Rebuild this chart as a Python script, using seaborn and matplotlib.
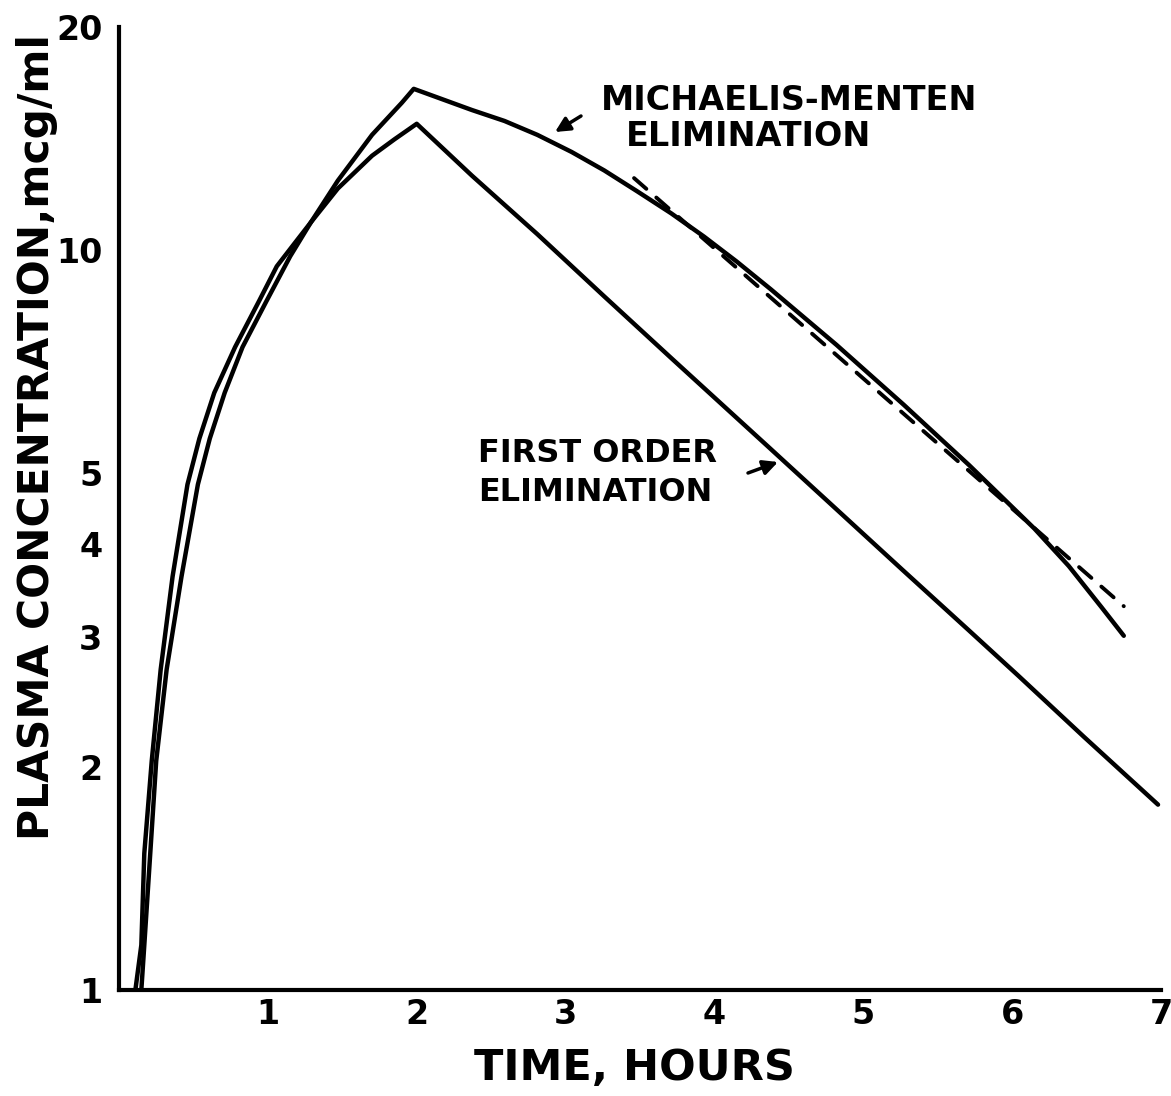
import numpy as np
import pandas as pd
import matplotlib
matplotlib.use("Agg")
import matplotlib.pyplot as plt
import seaborn as sns

# ---- data ----
time_first_order = [0.11, 0.15, 0.17, 0.22, 0.28, 0.36, 0.46, 0.54, 0.64, 0.78, 0.94,
                    1.06, 1.29, 1.47, 1.70, 1.85, 2.00, 2.37, 2.81, 3.26, 3.71, 4.37,
                    4.81, 5.26, 5.71, 6.04, 6.48, 6.98]
conc_first_order = [1.0, 1.15, 1.53, 2.04, 2.71, 3.62, 4.82, 5.56, 6.41, 7.39, 8.52,
                    9.5, 10.9, 12.1, 13.4, 14.1, 14.8, 12.6, 10.5, 8.65, 7.14, 5.40,
                    4.48, 3.70, 3.06, 2.66, 2.20, 1.78]

time_mm = [0.15, 0.17, 0.21, 0.25, 0.32, 0.42, 0.53, 0.61, 0.71, 0.83, 0.99, 1.15,
           1.29, 1.47, 1.70, 1.90, 1.98, 2.37, 2.59, 2.81, 3.04, 3.26, 3.48, 3.71,
           3.93, 4.15, 4.38, 4.82, 5.27, 5.71, 6.15, 6.38, 6.60, 6.75]
conc_mm = [1.0, 1.15, 1.53, 2.04, 2.71, 3.62, 4.82, 5.56, 6.41, 7.39, 8.52, 9.8,
           10.9, 12.4, 14.3, 15.8, 16.5, 15.45, 14.93, 14.30, 13.56, 12.80, 12.0, 11.2,
           10.42, 9.64, 8.84, 7.44, 6.18, 5.12, 4.20, 3.74, 3.29, 3.01]

time_dashed = [3.46, 6.75]
conc_dashed = [12.5, 3.3]

x_ticks = [1, 2, 3, 4, 5, 6, 7]
y_ticks = [1, 2, 3, 4, 5, 10, 20]
y_tick_labels = ["1", "2", "3", "4", "5", "10", "20"]

x_label = "TIME, HOURS"
y_label = "PLASMA CONCENTRATION,mcg/ml"
mm_label = ["MICHAELIS-MENTEN", "ELIMINATION"]
fo_label = ["FIRST ORDER", "ELIMINATION"]

# ---- style ----
sns.set_theme(style="white")
plt.rcParams["font.family"] = ["DejaVu Sans"]
plt.rcParams["font.weight"] = "bold"
plt.rcParams["text.color"] = "black"
plt.rcParams["axes.labelcolor"] = "black"

W, H = 1171, 1096
fig = plt.figure(figsize=(W / 100, H / 100), dpi=100)
ax_left, ax_right, ax_top, ax_bottom = 119, 1161, 27, 990
ax = fig.add_axes([ax_left / W, 1 - ax_bottom / H,
                   (ax_right - ax_left) / W, (ax_bottom - ax_top) / H])

df = pd.concat([
    pd.DataFrame({"t": time_first_order, "c": conc_first_order, "s": "first"}),
    pd.DataFrame({"t": time_mm, "c": conc_mm, "s": "mm"}),
])
lw = 3.2
sns.lineplot(data=df, x="t", y="c", units="s", estimator=None, color="black",
             lw=lw, ax=ax, sort=False, solid_capstyle="round", solid_joinstyle="round")
sns.lineplot(x=time_dashed, y=conc_dashed, color="black", lw=2.8, ax=ax,
             linestyle=(0, (4.2, 3.4)), dash_capstyle="round")

ax.set_yscale("log")
ax.set_xlim(0, 7)
ax.set_ylim(1, 20)
ax.set_xticks(x_ticks)
ax.set_xticklabels([str(v) for v in x_ticks])
ax.set_yticks(y_ticks)
ax.set_yticklabels(y_tick_labels)
ax.yaxis.set_minor_locator(matplotlib.ticker.NullLocator())
ax.xaxis.set_minor_locator(matplotlib.ticker.NullLocator())

for side in ["top", "right"]:
    ax.spines[side].set_visible(False)
for side in ["left", "bottom"]:
    ax.spines[side].set_linewidth(3)
    ax.spines[side].set_color("black")

ax.tick_params(axis="both", direction="in", length=11, width=2.5, color="black",
               labelsize=24, labelcolor="black")
ax.tick_params(axis="x", pad=6)
ax.tick_params(axis="y", pad=12)
for lab in ax.get_xticklabels() + ax.get_yticklabels():
    lab.set_fontweight("bold")

ax.set_xlabel(x_label, fontsize=31, fontweight="bold", color="black")
ax.set_ylabel(y_label, fontsize=30.5, fontweight="bold", color="black")
ax.xaxis.set_label_coords((634 - ax_left) / (ax_right - ax_left),
                          (ax_bottom - 1068) / (ax_bottom - ax_top))
ax.xaxis.label.set_verticalalignment("center")
ax.yaxis.set_label_coords((37 - ax_left) / (ax_right - ax_left),
                          (ax_bottom - 437) / (ax_bottom - ax_top))
ax.yaxis.label.set_verticalalignment("center")


def axfrac(px, py):
    return ((px - ax_left) / (ax_right - ax_left), (ax_bottom - py) / (ax_bottom - ax_top))


text_kw = dict(transform=ax.transAxes, va="center", fontweight="bold", color="black")
ax.text(*axfrac(789, 100), mm_label[0], ha="center", fontsize=24, **text_kw)
ax.text(*axfrac(749, 136), mm_label[1], ha="center", fontsize=24, **text_kw)
ax.text(*axfrac(478, 453), fo_label[0], ha="left", fontsize=23, **text_kw)
ax.text(*axfrac(478, 492), fo_label[1], ha="left", fontsize=23, **text_kw)

arrow = dict(arrowstyle="-|>", lw=2.5, color="black", mutation_scale=22,
             shrinkA=0, shrinkB=0)
ax.annotate("", xy=axfrac(555, 132), xytext=axfrac(581, 116),
            xycoords="axes fraction", textcoords="axes fraction", arrowprops=arrow)
ax.annotate("", xy=axfrac(778, 462), xytext=axfrac(748, 473),
            xycoords="axes fraction", textcoords="axes fraction", arrowprops=arrow)

ax.grid(False)
ax.set_facecolor("white")
fig.patch.set_facecolor("white")
fig.savefig("out.png", dpi=100, facecolor="white")
